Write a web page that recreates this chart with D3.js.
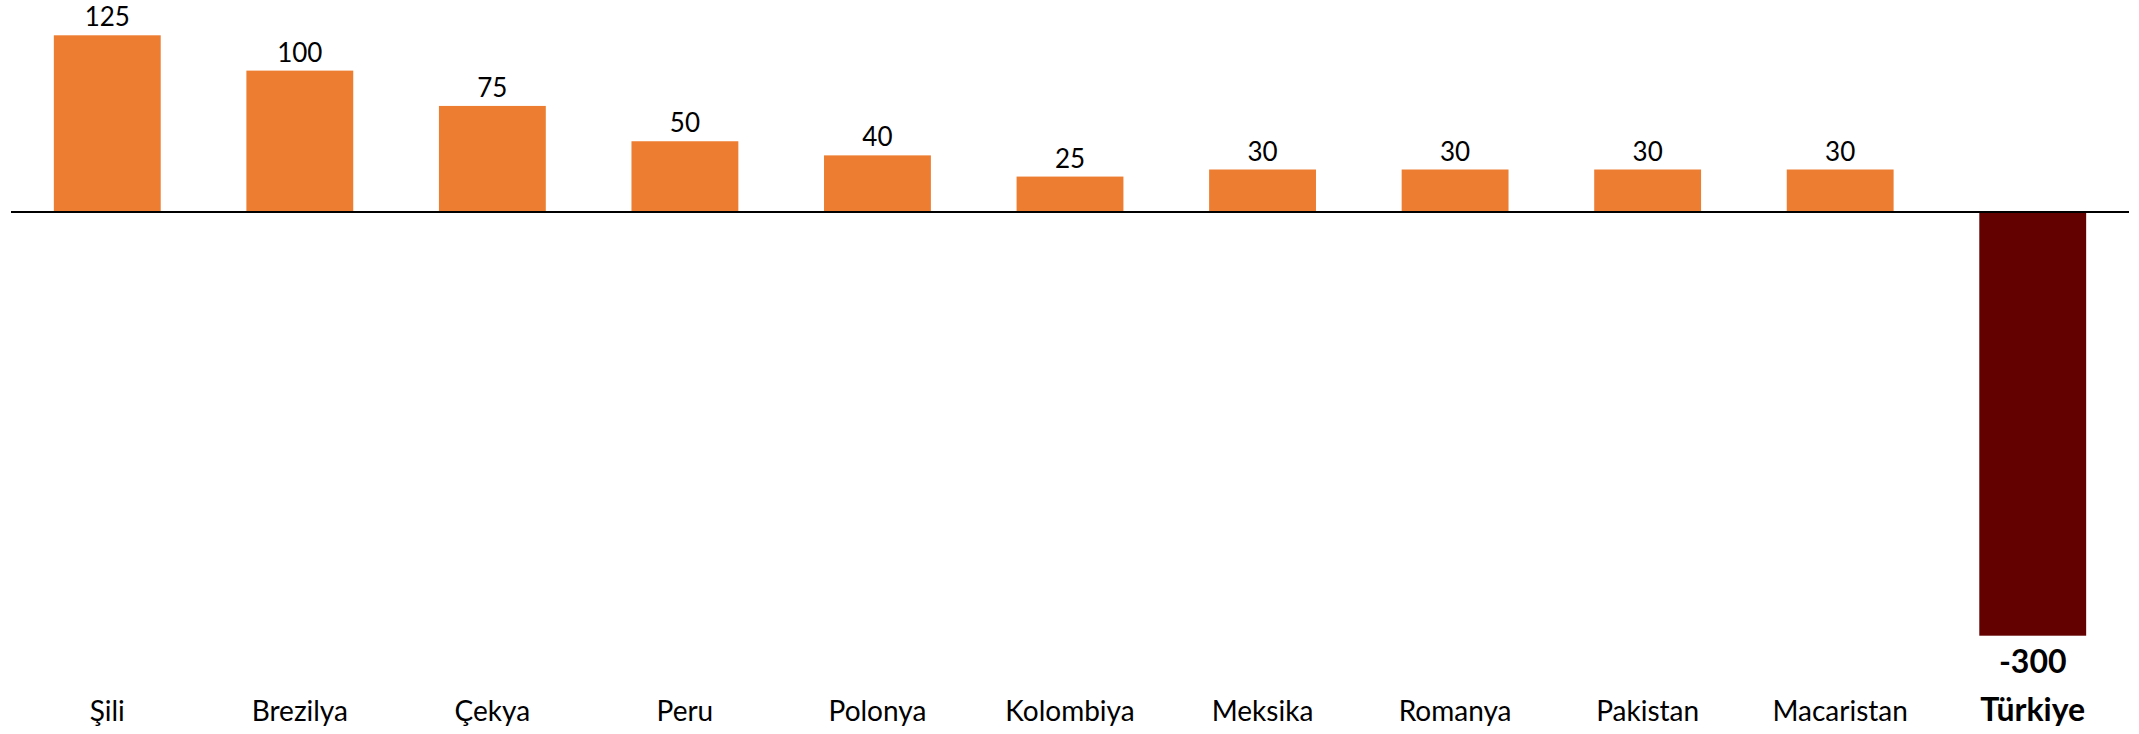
<!DOCTYPE html>
<html>
<head>
<meta charset="utf-8">
<script src="https://cdn.jsdelivr.net/npm/d3@7"></script>
<style>
  body{margin:0;background:#fff;}
  svg text{font-family:Lato,"Open Sans",sans-serif;fill:#000;}
</style>
</head>
<body>
<div id="chart"></div>
<script>
// data
var countries = ["Şili","Brezilya","Çekya","Peru","Polonya","Kolombiya","Meksika","Romanya","Pakistan","Macaristan","Türkiye"];
var values = [125,100,75,50,40,25,30,30,30,30,-300];
var highlight = "Türkiye";

var W = 2139, H = 734;
var svg = d3.select("#chart").append("svg")
  .attr("width", W)
  .attr("height", H);

var x = d3.scaleBand()
  .domain(countries)
  .range([11, 2129])
  .paddingInner(0.445)
  .paddingOuter(0.2225);

var y = d3.scaleLinear()
  .domain([-300, 125])
  .range([635.7, 35.3]);

var rows = countries.map(function(c,i){ return {name:c, value:values[i]}; });

// bars
svg.selectAll("rect.bar")
  .data(rows)
  .enter()
  .append("rect")
  .attr("class","bar")
  .attr("x", function(d){ return x(d.name); })
  .attr("width", x.bandwidth())
  .attr("y", function(d){ return y(Math.max(0,d.value)); })
  .attr("height", function(d){ return Math.abs(y(d.value)-y(0)); })
  .style("fill", function(d){ return d.name===highlight ? "#630000" : "#ED7D31"; });

// zero line
svg.append("line")
  .attr("x1", 11).attr("x2", 2129)
  .attr("y1", y(0)).attr("y2", y(0))
  .attr("stroke","#000")
  .attr("stroke-width",2);

// value labels
svg.selectAll("text.val")
  .data(rows)
  .enter()
  .append("text")
  .attr("class","val")
  .attr("text-anchor","middle")
  .attr("x", function(d){ return x(d.name)+x.bandwidth()/2; })
  .attr("y", function(d){ return d.value>=0 ? y(d.value)-9 : y(d.value)+37; })
  .style("font-size", function(d){ return d.name===highlight ? "32px" : "26px"; })
  .style("font-weight", function(d){ return d.name===highlight ? "bold" : "normal"; })
  .text(function(d){ return d.value; });

// category labels
svg.selectAll("text.cat")
  .data(rows)
  .enter()
  .append("text")
  .attr("class","cat")
  .attr("text-anchor","middle")
  .attr("x", function(d){ return x(d.name)+x.bandwidth()/2; })
  .attr("y", 721)
  .style("font-size", function(d){ return d.name===highlight ? "32px" : "28px"; })
  .style("font-weight", function(d){ return d.name===highlight ? "bold" : "normal"; })
  .text(function(d){ return d.name; });
</script>
</body>
</html>
